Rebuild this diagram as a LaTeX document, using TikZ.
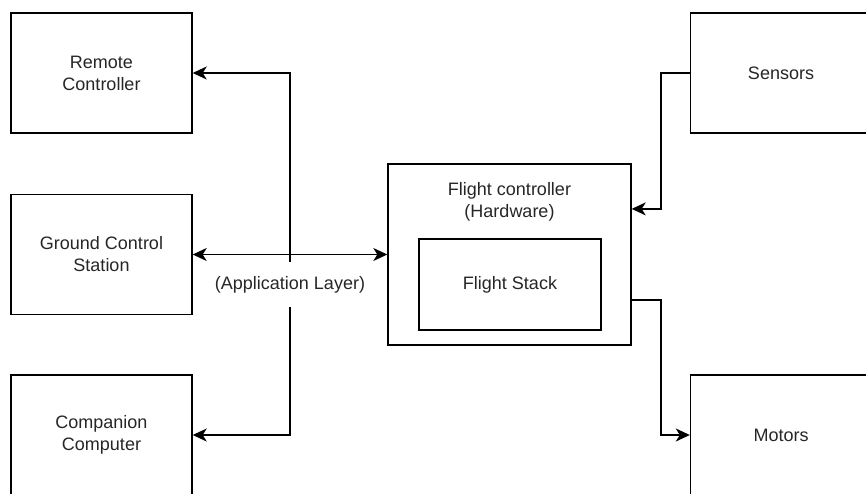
\documentclass[tikz,border=0pt]{standalone}
\usepackage{fontspec}
\setmainfont{Liberation Sans}
\usetikzlibrary{arrows.meta,calc}
\begin{document}
\begin{tikzpicture}[x=1pt,y=-1pt,
  lbl/.style={font=\fontsize{18}{22}\selectfont, text=black!85, align=center, inner sep=0pt},
  blk/.style={lbl, draw=black, line width=1.4pt, minimum width=181pt, minimum height=120pt},
  wire/.style={line width=1.4pt, draw=black},
  arr/.style={wire, -{Stealth[length=14pt,width=13pt,inset=4pt]}},
  darr/.style={wire, {Stealth[length=14pt,width=13pt,inset=4pt]}-{Stealth[length=14pt,width=13pt,inset=4pt]}}]
\useasboundingbox (0,0) rectangle (866,493);
\clip (0,0) rectangle (866,493);

% left column
\node[blk] (rc)  at (101.5,73)   {Remote\\Controller};
\node[blk] (gcs) at (101.5,254.5) {Ground Control\\Station};
\node[blk] (cc)  at (101.5,435)  {Companion\\Computer};

% right column (boxes run past the page edge)
\node[blk] (sen) at (781,73)  {Sensors};
\node[blk] (mot) at (781,435) {Motors};

% flight controller with nested flight stack
\node[blk, minimum width=243pt, minimum height=181pt] (fc) at (509.5,254.5) {};
\node[lbl] (fct) at (509.5,201.5) {Flight controller\\(Hardware)};
\node[blk, minimum width=182pt, minimum height=91pt] (fs) at (510,284.5) {Flight Stack};

% application layer label and its links
\node[lbl, minimum height=45pt] (app) at (290,284.5) {(Application Layer)};
\draw[arr] (app.north) |- (rc.east);
\draw[arr] (app.south) |- (cc.east);
\draw[darr] (gcs.east) -- (fc.west);

% sensors in, motors out
\coordinate (bend) at (661,0);
\draw[arr] (sen.west) -- (sen.west -| bend) |- ($(fc.north east)!0.25!(fc.south east)$);
\draw[arr] ($(fc.north east)!0.75!(fc.south east)$) -| (bend |- mot.west) -- (mot.west);
\end{tikzpicture}
\end{document}
